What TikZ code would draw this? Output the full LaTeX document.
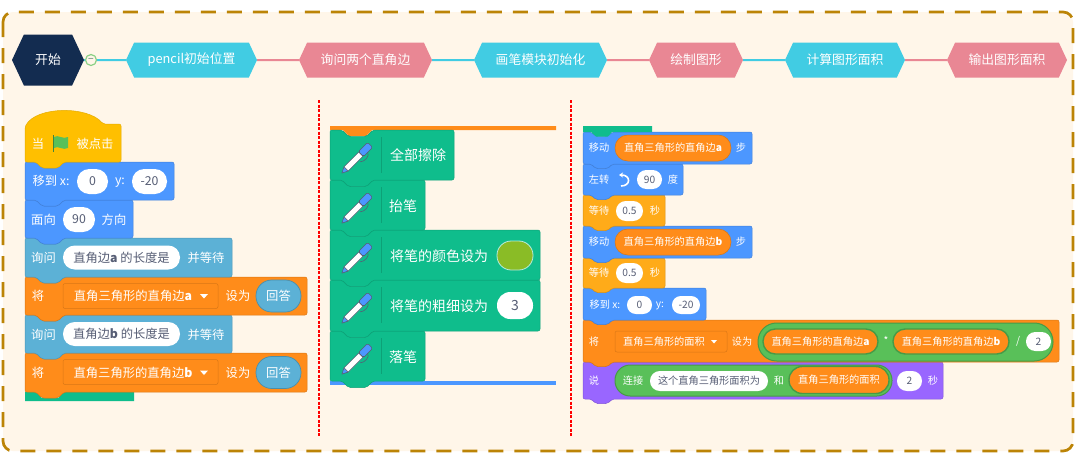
\documentclass[tikz,border=0pt]{standalone}
\usepackage{fontspec}
\setmainfont{Noto Sans CJK SC}
\usepackage{tikz}
\usetikzlibrary{shapes.symbols,arrows.meta}

\definecolor{paper}{HTML}{FFF6E9}
\definecolor{frameline}{HTML}{BC8406}
\definecolor{navy}{HTML}{132C50}
\definecolor{stepcyan}{HTML}{41CCE3}
\definecolor{steppink}{HTML}{E98794}
\definecolor{hatyellow}{HTML}{FFBF00}
\definecolor{waityellow}{HTML}{FFAB19}
\definecolor{moveblue}{HTML}{4C97FF}
\definecolor{askblue}{HTML}{5CB1D6}
\definecolor{varorange}{HTML}{FF8C1A}
\definecolor{pengreen}{HTML}{0FBD8C}
\definecolor{opgreen}{HTML}{59C059}
\definecolor{saypurple}{HTML}{9966FF}
\definecolor{valtext}{HTML}{575E75}
\definecolor{swatch}{HTML}{8ABC26}
\definecolor{cutred}{HTML}{FF0000}

\tikzset{
    stephex/.style={signal, signal to=east and west, signal pointer angle=130,
        draw=none, text=white, inner sep=0pt, minimum width=#1pt, minimum height=35pt,
        font=\fontsize{12.8}{13}\selectfont},
    linkcyan/.style={draw=stepcyan, line width=2pt},
    linkpink/.style={draw=steppink, line width=2pt},
    blockshape/.style={line width=0.5pt, rounded corners=2pt},
    lblA/.style={text=white, inner sep=0pt, font=\fontsize{12.3}{13}\selectfont},
    lblB/.style={text=white, inner sep=0pt, font=\fontsize{14}{15}\selectfont},
    lblC/.style={text=white, inner sep=0pt, font=\fontsize{10.2}{11}\selectfont},
    pill/.style n args={3}{rectangle, rounded corners=#2*0.49pt, inner sep=0pt,
        minimum width=#1pt, minimum height=#2pt, fill=#3},
    valA/.style 2 args={pill={#1}{#2}{white}, text=valtext, font=\fontsize{12.3}{13}\selectfont},
    valB/.style 2 args={pill={#1}{#2}{white}, text=valtext, font=\fontsize{14}{15}\selectfont},
    valC/.style 2 args={pill={#1}{#2}{white}, text=valtext, font=\fontsize{10.2}{11}\selectfont},
    menuA/.style={rectangle, rounded corners=2pt, inner sep=0pt, fill=varorange, draw=varorange!85!black,
        line width=0.5pt, minimum width=155pt, minimum height=25pt},
    menuC/.style={rectangle, rounded corners=2pt, inner sep=0pt, fill=varorange, draw=varorange!85!black,
        line width=0.5pt, minimum width=112pt, minimum height=21pt},
    repA/.style={pill={45}{32}{askblue}, draw=askblue!80!black, line width=0.7pt, text=white,
        font=\fontsize{12.3}{13}\selectfont},
    repC/.style 2 args={pill={#1}{#2}{varorange}, draw=opgreen!80!black, line width=1.4pt, text=white,
        font=\fontsize{10.2}{11}\selectfont},
    moveval/.style={pill={116}{26}{varorange}, draw=varorange!85!black, line width=0.5pt, text=white,
        font=\fontsize{10.2}{11}\selectfont},
    opbox/.style 2 args={pill={#1}{#2}{opgreen}, draw=opgreen!80!black, line width=1pt},
    penline/.style={draw=valtext, line width=0.6pt, line join=round},
    cutline/.style={draw=cutred, line width=1.6pt, dash pattern=on 3pt off 1.5pt},
}

\newcommand{\Block}[6][1]{
    \draw[blockshape, fill=#6, draw=#6!85!black]
        (#2,#3) -- ({#2+11*#1},#3) -- ({#2+17*#1},{#3+6*#1}) -- ({#2+33*#1},{#3+6*#1}) -- ({#2+39*#1},#3)
        -- (#4,#3) -- (#4,#5) -- ({#2+39*#1},#5) -- ({#2+33*#1},{#5+6*#1}) -- ({#2+17*#1},{#5+6*#1})
        -- ({#2+11*#1},#5) -- (#2,#5) -- cycle;
}
\newcommand{\PenIcon}[2]{
    \begin{scope}[shift={(#1,#2)}, rotate=45]
        \draw[penline, fill=moveblue] (-20,0) -- (-14,-3) -- (-14,3) -- cycle;
        \draw[penline, fill=white] (-14,-3) rectangle (7,3);
        \draw[penline, fill=moveblue, rounded corners=1.5pt] (7,-3.5) -- (20,-3.5) -- (20,3.5) -- (7,3.5) -- cycle;
        \draw[penline] (13,3.5) .. controls (12,8) and (4,8) .. (1,5);
    \end{scope}
}

\begin{document}
\begin{tikzpicture}[x=1pt,y=-1pt]
    \useasboundingbox (0,0) rectangle (1080,464);
    \fill[white] (0,0) rectangle (1080,464);
    \fill[paper, rounded corners=10pt] (3,12) rectangle (1073,451);
    \draw[frameline, line width=2.7pt, dash pattern=on 15pt off 11pt, rounded corners=10pt] (3,12) rectangle (1073,451);

    \node[stephex=72, minimum height=51pt, fill=navy] (start) at (48,60) {开始};
    \node[stephex=131, fill=stepcyan] (pencil) at (191.5,60) {pencil初始位置};
    \node[stephex=133, fill=steppink] (ask) at (365.5,60) {询问两个直角边};
    \node[stephex=133, fill=stepcyan] (init) at (540.5,60) {画笔模块初始化};
    \node[stephex=94, fill=steppink] (shape) at (696,60) {绘制图形};
    \node[stephex=120, fill=stepcyan] (area) at (845,60) {计算图形面积};
    \node[stephex=120, fill=steppink] (output) at (1007,60) {输出图形面积};

    \draw[linkcyan] (start) -- (pencil);
    \draw[linkpink] (pencil) -- (ask);
    \draw[linkcyan] (ask) -- (init);
    \draw[linkpink] (init) -- (shape);
    \draw[linkcyan] (shape) -- (area);
    \draw[linkpink] (area) -- (output);
    \node[circle, draw=opgreen!70!paper, fill=paper, line width=1.2pt, minimum size=11pt, inner sep=0pt,
        text=valtext!70!opgreen, font=\fontsize{10}{10}\selectfont] (fold) at (91,60) {−};

    \draw[cutline] (319,100) -- (319,436);
    \draw[cutline] (571,100) -- (571,436);

    \draw[fill=pengreen, draw=none] (25,392) -- (36,392) -- (42,398) -- (58,398) -- (64,392) -- (134,392) -- (134,401) -- (25,401) -- cycle;
    \Block{25}{353}{307}{392}{varorange}
    \Block{25}{315}{232}{353}{askblue}
    \Block{25}{277}{307}{315}{varorange}
    \Block{25}{238}{232}{277}{askblue}
    \Block{25}{200}{133}{238}{moveblue}
    \Block{25}{162}{174}{200}{moveblue}
    \draw[blockshape, fill=hatyellow, draw=hatyellow!90!black] (25,127) .. controls (36,106) and (88,106) .. (103,124)
        -- (121,124) -- (121,162) -- (64,162) -- (58,168) -- (42,168) -- (36,162) -- (25,162) -- cycle;

    \node[lblA] (whenA) at (38,144) {当};
    \draw[draw=opgreen!70!black, line width=1pt] (53.5,135) -- (53.5,152);
    \fill[opgreen] (54,137) .. controls (58,134) and (63,140) .. (68,137) -- (68,148) .. controls (63,151) and (58,145) .. (54,148) -- cycle;
    \node[lblA] (whenB) at (95,144) {被点击};

    \node[lblA] (gotoA) at (51,181) {移到 x:};
    \node[valA={31}{25}] (gotoX) at (92.5,181.5) {0};
    \node[lblA] (gotoB) at (120,183) {y:};
    \node[valA={35}{25}] (gotoY) at (149.5,181.5) {-20};

    \node[lblA] (faceA) at (43.5,220) {面向};
    \node[valA={32}{25}] (faceV) at (79,219.5) {90};
    \node[lblA] (faceB) at (114,220) {方向};

    \node[lblA] (askA) at (43.5,258) {询问};
    \node[valA={117}{24}] (askV) at (121.5,257.5) {直角边\textbf{a} 的长度是};
    \node[lblA] (askB) at (206,258) {并等待};

    \node[lblA] (setA) at (38,296) {将};
    \node[menuA] (setV) at (140.5,296) {};
    \node[lblA] (setW) at (133,296) {直角三角形的直角边\textbf{a}};
    \fill[white] (200,294) -- (208,294) -- (204,298.5) -- cycle;
    \node[lblA] (setB) at (238,296) {设为};
    \node[repA] (setR) at (278.5,296) {回答};

    \node[lblA] (askC) at (43.5,335) {询问};
    \node[valA={117}{24}] (askU) at (121.5,334) {直角边\textbf{b} 的长度是};
    \node[lblA] (askD) at (206,335) {并等待};

    \node[lblA] (setC) at (38,373) {将};
    \node[menuA] (setU) at (140.5,372) {};
    \node[lblA] (setX) at (133,372.5) {直角三角形的直角边\textbf{b}};
    \fill[white] (200,370.5) -- (208,370.5) -- (204,375) -- cycle;
    \node[lblA] (setD) at (238,373) {设为};
    \node[repA] (setS) at (278.5,372.5) {回答};

    \fill[moveblue] (330,381) rectangle (556,385);
    \draw[draw=none, fill=varorange] (330,126) -- (556,126) -- (556,130) -- (372,130) -- (366,136) -- (349,136) -- (343,130) -- (330,130) -- cycle;
    \Block[1.1]{330}{331}{425}{381}{pengreen}
    \Block[1.1]{330}{280}{540}{331}{pengreen}
    \Block[1.1]{330}{230}{540}{280}{pengreen}
    \Block[1.1]{330}{180}{425}{230}{pengreen}
    \Block[1.1]{330}{130}{454}{180}{pengreen}
    \foreach \rowy in {130,180,230,280,331}{
        \draw[pengreen!85!black, line width=0.6pt] (381,\rowy+7) -- (381,\rowy+43);
        \PenIcon{356}{\rowy+29}
    }
    \node[lblB] (eraseT) at (418,155) {全部擦除};
    \node[lblB] (upT) at (403,206) {抬笔};
    \node[lblB] (colorT) at (439,256) {将笔的颜色设为};
    \node[pill={36}{29}{swatch}, draw=white!70!pengreen, line width=0.8pt] (colorV) at (515,255.5) {};
    \node[lblB] (sizeT) at (439,306) {将笔的粗细设为};
    \node[valB={36}{27}] (sizeV) at (515,305.5) {3};
    \node[lblB] (downT) at (403,357) {落笔};

    \Block[0.75]{583}{362}{943}{399}{saypurple}
    \Block[0.75]{583}{320}{1059}{362}{varorange}
    \Block[0.75]{583}{288}{706}{320}{moveblue}
    \Block[0.75]{583}{258}{665}{288}{waityellow}
    \Block[0.75]{583}{226}{752}{258}{moveblue}
    \Block[0.75]{583}{195}{665}{226}{waityellow}
    \Block[0.75]{583}{164}{683}{195}{moveblue}
    \Block[0.75]{583}{132}{752}{164}{moveblue}
    \fill[pengreen] (583,126) -- (652,126) -- (652,132) -- (612,132) -- (608,136.5) -- (596,136.5) -- (591,132) -- (583,132) -- cycle;

    \node[lblC] (moveA) at (599,148) {移动};
    \node[moveval] (moveV) at (673,148) {直角三角形的直角边\textbf{a}};
    \node[lblC] (moveB) at (741,148) {步};

    \node[lblC] (turnA) at (599,180) {左转};
    \draw[white, line width=1.6pt, -{Stealth[length=4pt,width=5pt]}] (621,186) .. controls (631,186) and (631,175) .. (619,175);
    \node[valC={25}{19}] (turnV) at (649.5,179.5) {90};
    \node[lblC] (turnB) at (673,180) {度};

    \node[lblC] (waitA) at (599,211) {等待};
    \node[valC={27}{20}] (waitV) at (629.5,211) {0.5};
    \node[lblC] (waitB) at (655,211) {秒};

    \node[lblC] (moveC) at (599,242) {移动};
    \node[moveval] (moveU) at (673,242) {直角三角形的直角边\textbf{b}};
    \node[lblC] (moveD) at (741,242) {步};

    \node[lblC] (waitC) at (599,273) {等待};
    \node[valC={27}{20}] (waitU) at (629.5,273) {0.5};
    \node[lblC] (waitD) at (655,273) {秒};

    \node[lblC] (gotoC) at (605,305) {移到 x:};
    \node[valC={25}{18}] (gotoU) at (639.5,305) {0};
    \node[lblC] (gotoD) at (660,306) {y:};
    \node[valC={28}{18}] (gotoW) at (686,305) {-20};

    \node[lblC] (setE) at (594,342) {将};
    \node[menuC] (setK) at (671,341.5) {};
    \node[lblC] (setY) at (664,341.5) {直角三角形的面积};
    \fill[white] (711,340) -- (717,340) -- (714,343.5) -- cycle;
    \node[lblC] (setF) at (742,342) {设为};
    \node[opbox={295}{38}] (joinBox) at (905.5,342) {};
    \node[repC={115}{25}] (sideA) at (820.5,341.5) {直角三角形的直角边\textbf{a}};
    \node[lblC] (timesT) at (886,340) {*};
    \node[repC={116}{25}] (sideB) at (951,341.5) {直角三角形的直角边\textbf{b}};
    \node[lblC] (divT) at (1018,341.5) {/};
    \node[valC={25}{19}] (divV) at (1038.5,341.5) {2};

    \node[lblC] (sayA) at (594,381) {说};
    \node[opbox={277}{31}] (sayBox) at (753.5,380.5) {};
    \node[lblC] (sayJ) at (633,381) {连接};
    \node[valC={118}{20}] (sayV) at (709,381) {这个直角三角形面积为};
    \node[lblC] (sayH) at (779,381) {和};
    \node[repC={100}{27}] (sayR) at (839,380) {直角三角形的面积};
    \node[valC={25}{20}] (sayS) at (909.5,381) {2};
    \node[lblC] (sayB) at (933,381) {秒};
\end{tikzpicture}
\end{document}
